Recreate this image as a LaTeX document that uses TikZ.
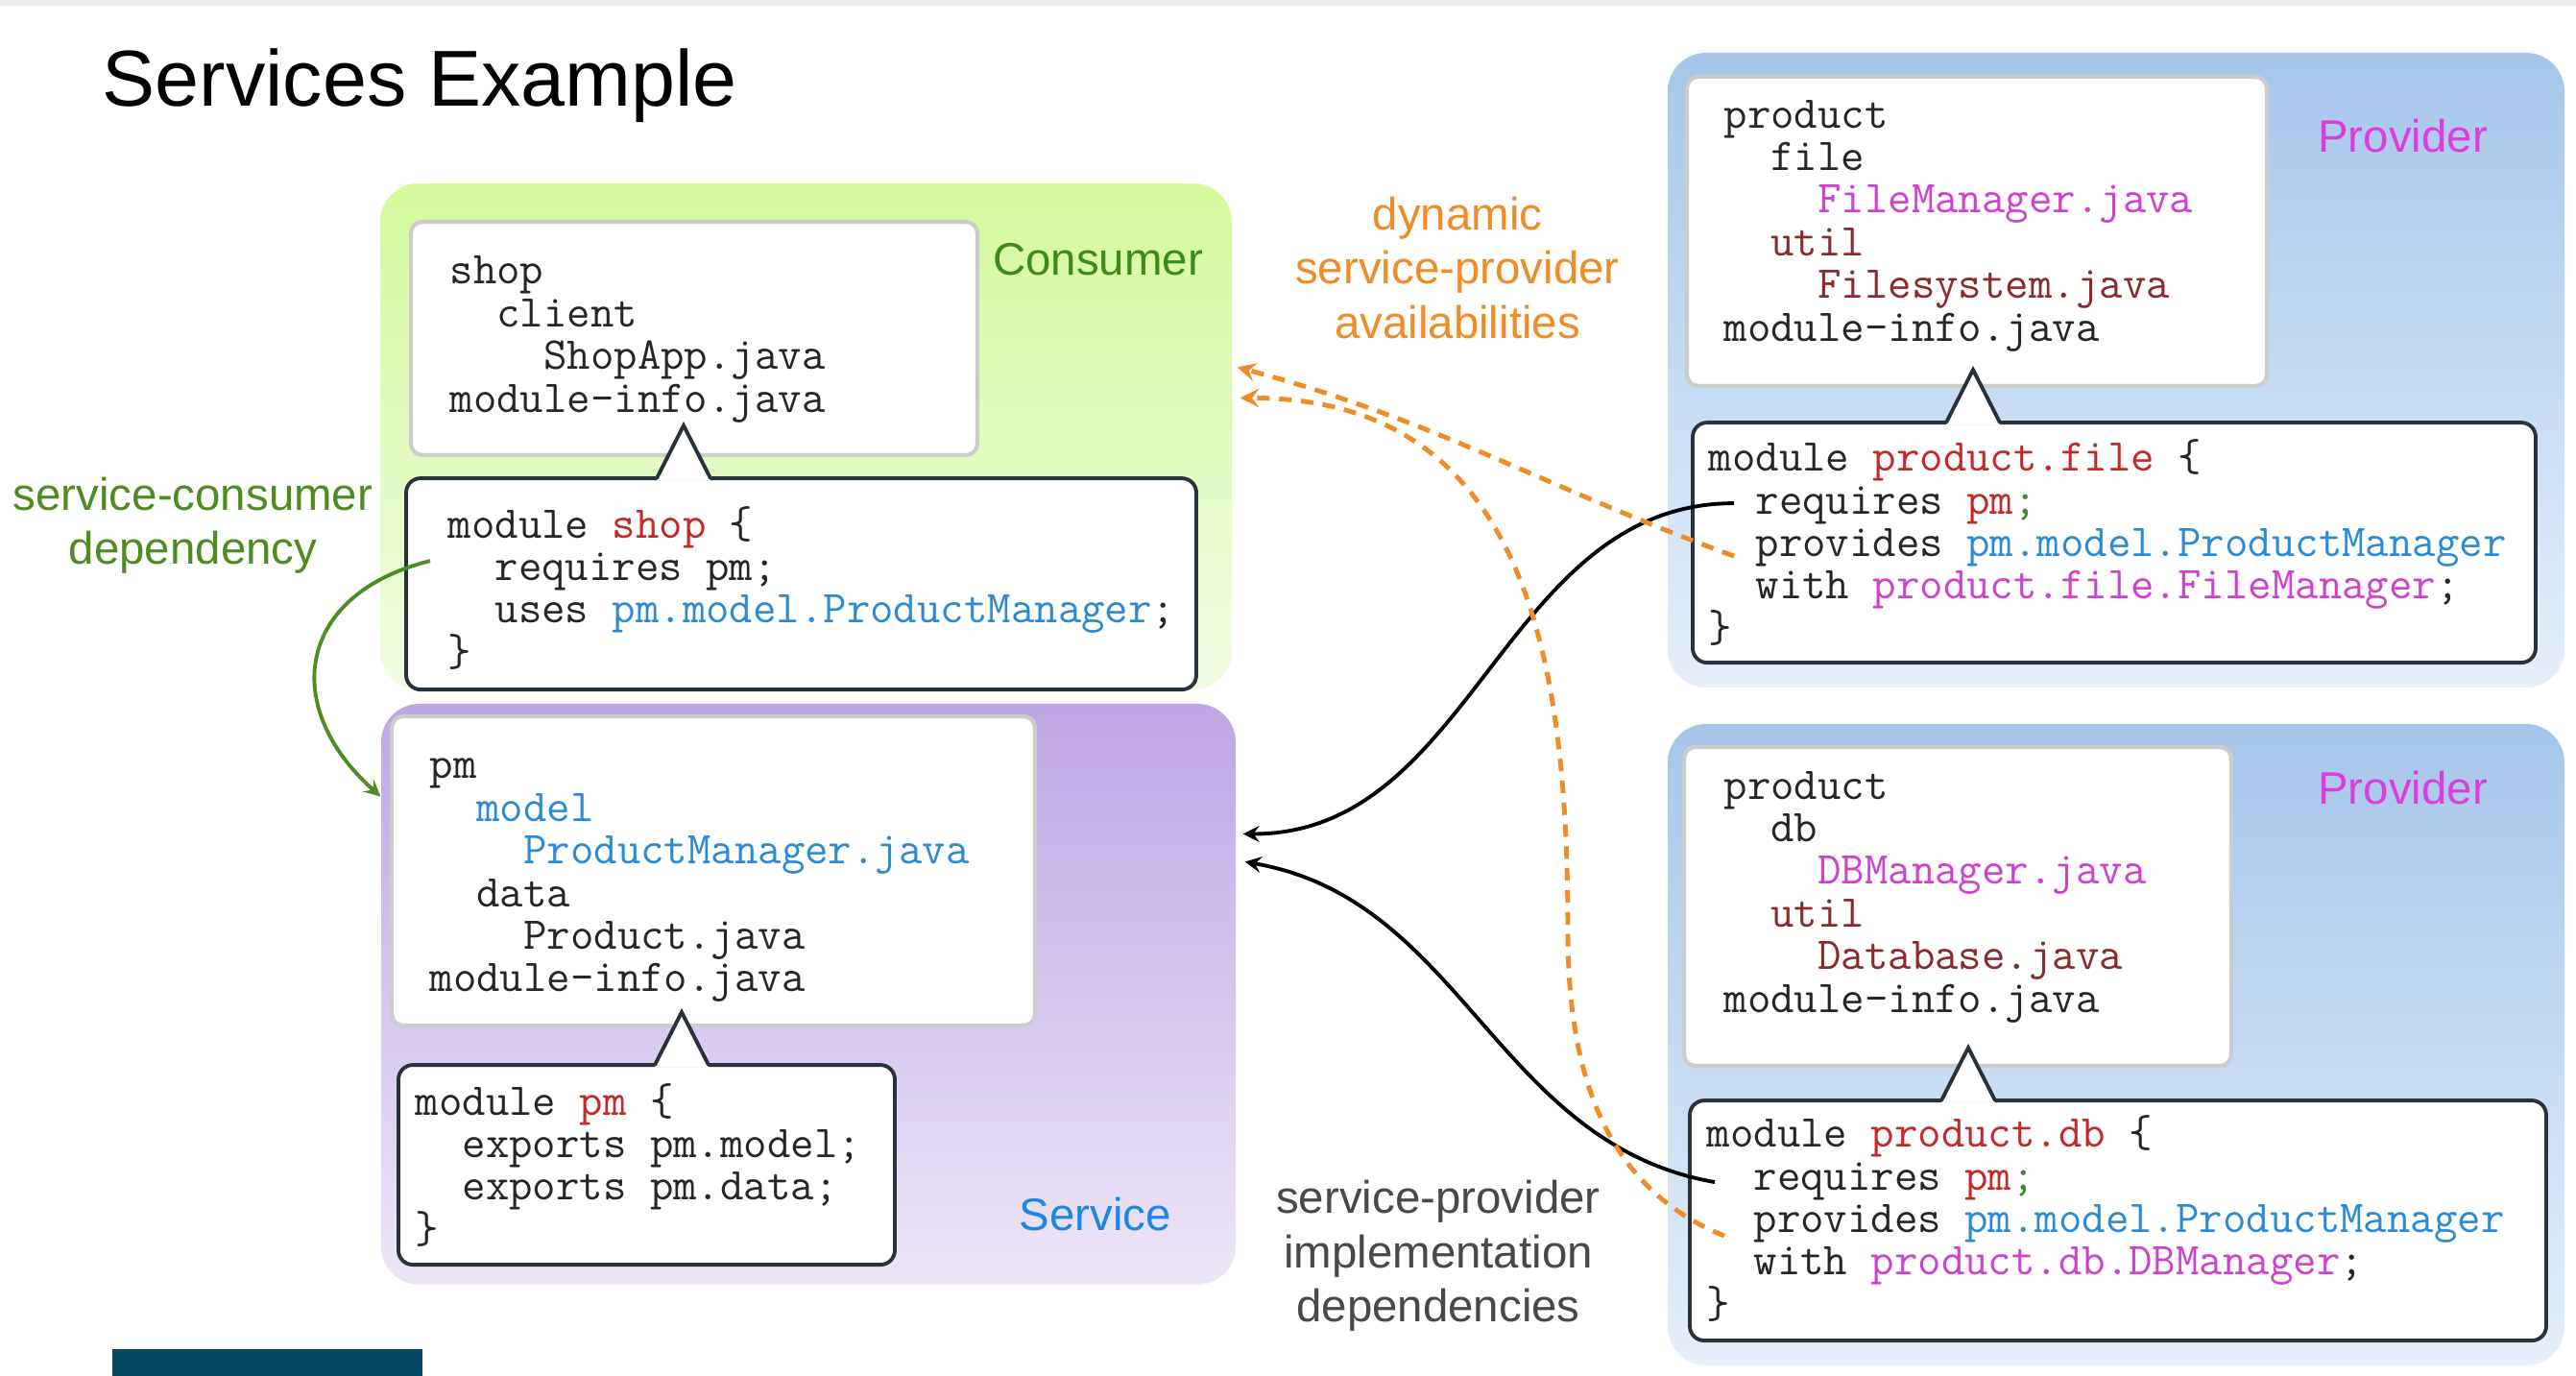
\documentclass[tikz,border=0pt]{standalone}
\usepackage{fontspec}
\setmainfont{Liberation Sans}
\usetikzlibrary{arrows, positioning}

\definecolor{consumertop}{RGB}{212,250,155}
\definecolor{consumerbot}{RGB}{240,252,226}
\definecolor{servicetop}{RGB}{190,166,228}
\definecolor{servicebot}{RGB}{237,230,247}
\definecolor{providertop}{RGB}{165,198,234}
\definecolor{providerbot}{RGB}{230,239,250}
\definecolor{consumergreen}{RGB}{62,138,22}
\definecolor{depgreen}{RGB}{78,140,34}
\definecolor{serviceblue}{RGB}{27,134,228}
\definecolor{providermag}{RGB}{222,60,222}
\definecolor{availorange}{RGB}{240,140,40}
\definecolor{implgray}{RGB}{72,72,72}
\definecolor{calloutdark}{RGB}{40,50,56}
\definecolor{codegray}{RGB}{38,38,38}
\definecolor{modred}{RGB}{196,40,40}
\definecolor{typeblue}{RGB}{42,138,212}
\definecolor{implmag}{RGB}{208,64,208}
\definecolor{utilbrown}{RGB}{138,42,42}
\definecolor{semigreen}{RGB}{58,138,42}
\definecolor{logoteal}{RGB}{3,73,95}

\newcommand{\ind}[1]{\hspace*{#1\fontcharwd\font`M}}
\newcommand{\codefont}{\fontsize{13.5pt}{12.63pt}\selectfont\ttfamily\lineskiplimit=-\maxdimen}
\newcommand{\calltip}[2]{%
  \fill[white] ([xshift=#2-2.8mm, yshift=-0.7pt]#1.north) -- ([xshift=#2, yshift=5.5mm]#1.north) -- ([xshift=#2+2.8mm, yshift=-0.7pt]#1.north) -- cycle;
  \draw[draw=calloutdark, line width=1.1pt] ([xshift=#2-2.8mm]#1.north) -- ([xshift=#2, yshift=5.5mm]#1.north) -- ([xshift=#2+2.8mm]#1.north);}

\begin{document}
\begin{tikzpicture}

% --- Define Styles ---
\tikzstyle{modgroup} = [rectangle, rounded corners=0.4cm, inner sep=0pt]
\tikzstyle{filebox} = [rectangle, rounded corners=0.12cm, draw=black!20, line width=1.2pt, fill=white]
\tikzstyle{codebox} = [rectangle, rounded corners=0.15cm, draw=calloutdark, line width=1.1pt, fill=white, outer sep=0pt]
\tikzstyle{codetext} = [inner sep=0pt, align=left, font=\codefont, text=codegray]
\tikzstyle{grouplabel} = [inner sep=0pt, font=\fontsize{13.5pt}{16.1pt}\selectfont]
\tikzstyle{notetext} = [inner sep=0pt, align=center, font=\fontsize{13.5pt}{16.1pt}\selectfont]
\tikzstyle{usesarrow} = [line width=1.1pt, ->, >=stealth, draw=depgreen]
\tikzstyle{implarrow} = [line width=1.1pt, ->, >=stealth]
\tikzstyle{availarrow} = [line width=1.4pt, dash pattern=on 3.7pt off 2.8pt, ->, >=stealth, draw=availorange]

\fill[white] (0,0) rectangle (26.83,-14.33);
\useasboundingbox (0,0) rectangle (26.83,-14.33);
\fill[black!7] (0,0) rectangle (26.83,-0.06);
\fill[logoteal] (1.17,-14.05) rectangle (4.40,-14.33);

% --- Nodes ---
\node (title) [anchor=base west, inner sep=0pt, font=\fontsize{23.5pt}{28pt}\selectfont] at (1.06,-1.11) {Services Example};

\node (consumer) [modgroup, top color=consumertop, bottom color=consumerbot, minimum width=8.87cm, minimum height=5.27cm] at (8.395,-4.545) {};
\node (service) [modgroup, top color=servicetop, bottom color=servicebot, minimum width=8.90cm, minimum height=6.05cm] at (8.42,-10.355) {};
\node (provfile) [modgroup, top color=providertop, bottom color=providerbot, minimum width=9.34cm, minimum height=6.61cm] at (22.04,-3.855) {};
\node (provdb) [modgroup, top color=providertop, bottom color=providerbot, minimum width=9.34cm, minimum height=6.68cm] at (22.04,-10.88) {};

\node (consumerlabel) [grouplabel, text=consumergreen, below left=0.62cm and 0.30cm of consumer.north east] {Consumer};
\node (servicelabel) [grouplabel, text=serviceblue, above left=0.56cm and 0.67cm of service.south east] {Service};
\node (filelabel) [grouplabel, text=providermag, below left=0.69cm and 0.80cm of provfile.north east] {Provider};
\node (dblabel) [grouplabel, text=providermag, below left=0.49cm and 0.80cm of provdb.north east] {Provider};

\node (shopfiles) [filebox, minimum width=5.90cm, minimum height=2.43cm] at (7.23,-3.525) {};
\node (pmfiles) [filebox, minimum width=6.70cm, minimum height=3.22cm] at (7.43,-9.07) {};
\node (pfiles) [filebox, minimum width=6.04cm, minimum height=3.22cm] at (20.59,-2.41) {};
\node (dbfiles) [filebox, minimum width=5.70cm, minimum height=3.32cm] at (20.39,-9.44) {};

\node (shopcall) [codebox, minimum width=8.23cm, minimum height=2.20cm, below=0.22cm of shopfiles, xshift=1.115cm] {};
\node (pmcall) [codebox, minimum width=5.17cm, minimum height=2.08cm, below=0.39cm of pmfiles, xshift=-0.695cm] {};
\node (pfcall) [codebox, minimum width=8.78cm, minimum height=2.50cm, below=0.36cm of pfiles, xshift=1.43cm] {};
\node (dbcall) [codebox, minimum width=8.92cm, minimum height=2.50cm, below=0.34cm of dbfiles, xshift=1.67cm] {};

\calltip{shopcall}{-12.25mm}
\calltip{pmcall}{3.65mm}
\calltip{pfcall}{-14.7mm}
\calltip{dbcall}{-15.6mm}

\node (shoptree) [codetext, right=0.42cm of shopfiles.west, yshift=-0.01cm] {shop\\
  \ind{2}client\\
  \ind{4}ShopApp.java\\
  module-info.java};
\node (shopcode) [codetext, right=0.43cm of shopcall.west, yshift=-0.04cm] {module \textcolor{modred}{shop} \{\\
  \ind{2}requires pm;\\
  \ind{2}uses \textcolor{typeblue}{pm.model.ProductManager};\\
  \}};
\node (pmtree) [codetext, right=0.41cm of pmfiles.west, yshift=-0.10cm] {pm\\
  \ind{2}\textcolor{typeblue}{model}\\
  \ind{4}\textcolor{typeblue}{ProductManager.java}\\
  \ind{2}data\\
  \ind{4}Product.java\\
  module-info.java};
\node (pmcode) [codetext, right=0.17cm of pmcall.west] {module \textcolor{modred}{pm} \{\\
  \ind{2}exports pm.model;\\
  \ind{2}exports pm.data;\\
  \}};
\node (pftree) [codetext, right=0.40cm of pfiles.west, yshift=0.06cm] {product\\
  \ind{2}file\\
  \ind{4}\textcolor{implmag}{FileManager.java}\\
  \ind{2}\textcolor{utilbrown}{util}\\
  \ind{4}\textcolor{utilbrown}{Filesystem.java}\\
  module-info.java};
\node (pfcode) [codetext, right=0.16cm of pfcall.west] {module \textcolor{modred}{product.file} \{\\
  \ind{2}requires \textcolor{modred}{pm}\textcolor{semigreen}{;}\\
  \ind{2}provides \textcolor{typeblue}{pm.model.ProductManager}\\
  \ind{2}with \textcolor{implmag}{product.file.FileManager};\\
  \}};
\node (dbtree) [codetext, right=0.43cm of dbfiles.west, yshift=0.10cm] {product\\
  \ind{2}db\\
  \ind{4}\textcolor{implmag}{DBManager.java}\\
  \ind{2}\textcolor{utilbrown}{util}\\
  \ind{4}\textcolor{utilbrown}{Database.java}\\
  module-info.java};
\node (dbcode) [codetext, right=0.17cm of dbcall.west, yshift=0.02cm] {module \textcolor{modred}{product.db} \{\\
  \ind{2}requires \textcolor{modred}{pm}\textcolor{semigreen}{;}\\
  \ind{2}provides \textcolor{typeblue}{pm.model.ProductManager}\\
  \ind{2}with \textcolor{implmag}{product.db.DBManager};\\
  \}};

\node (depnote) [notetext, text=depgreen, anchor=north] at (2.01,-4.96) {service-consumer\\dependency};
\node (availnote) [notetext, text=availorange, anchor=north] at (15.18,-2.04) {dynamic\\service-provider\\availabilities};
\node (implnote) [notetext, text=implgray, anchor=north] at (14.98,-12.285) {service-provider\\implementation\\dependencies};

\coordinate (shopuses) at ([xshift=0.25cm, yshift=0.24cm]shopcall.west);
\coordinate (pfreq) at ([xshift=0.43cm, yshift=0.41cm]pfcall.west);
\coordinate (pfprov) at ([xshift=0.43cm, yshift=-0.14cm]pfcall.west);
\coordinate (dbreq) at ([xshift=0.26cm, yshift=0.40cm]dbcall.west);
\coordinate (dbprov) at ([xshift=0.36cm, yshift=-0.16cm]dbcall.west);

% --- Arrows ---
\draw [usesarrow] (shopuses) to[out=194, in=138, looseness=1.45] ([yshift=2.06cm]service.west);
\draw [implarrow] (pfreq) to[out=180, in=0] ([xshift=0.07cm, yshift=1.67cm]service.east);
\draw [implarrow] (dbreq) to[out=170, in=-10] ([xshift=0.09cm, yshift=1.38cm]service.east);
\draw [availarrow] (pfprov) to[out=160, in=-15] ([xshift=0.05cm, yshift=0.72cm]consumer.east);
\draw [availarrow] (dbprov) to[out=158, in=-90] ++(-1.63,3.17) to[out=90, in=0, looseness=1.15] ([xshift=0.08cm, yshift=0.40cm]consumer.east);

\end{tikzpicture}
\end{document}
